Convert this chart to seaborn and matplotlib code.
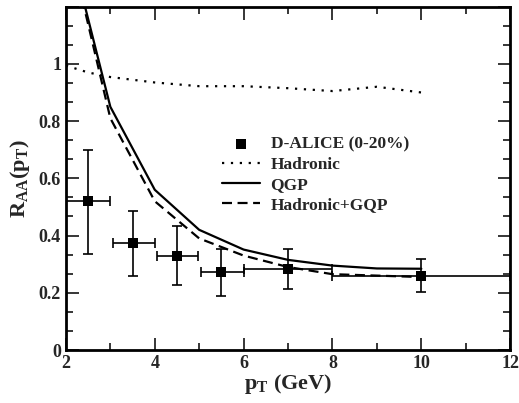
import numpy as np
import matplotlib
matplotlib.use("Agg")
import matplotlib.pyplot as plt
import seaborn as sns
from matplotlib.ticker import MultipleLocator, FuncFormatter

# data
alice_pt = [2.5, 3.5, 4.5, 5.5, 7.0, 10.0]
alice_raa = [0.52, 0.374, 0.33, 0.272, 0.284, 0.26]
alice_xlo = [2.0, 3.05, 4.05, 5.05, 6.0, 8.0]
alice_xhi = [3.0, 4.0, 4.97, 6.0, 8.0, 12.0]
alice_ylo = [0.335, 0.26, 0.228, 0.19, 0.214, 0.202]
alice_yhi = [0.70, 0.485, 0.435, 0.354, 0.353, 0.319]

had_pt = [2.0, 2.5, 3.0, 4.0, 5.0, 6.0, 7.0, 8.0, 9.0, 10.0]
had_raa = [0.994, 0.97, 0.954, 0.935, 0.922, 0.922, 0.915, 0.905, 0.92, 0.90]

qgp_pt = [2.3, 3.0, 4.0, 5.0, 6.0, 7.0, 8.0, 9.0, 10.0]
qgp_raa = [1.28, 0.85, 0.56, 0.42, 0.351, 0.315, 0.295, 0.285, 0.284]

hq_pt = [2.3, 3.0, 4.0, 5.0, 6.0, 7.0, 8.0, 9.0, 10.0]
hq_raa = [1.27, 0.81, 0.52, 0.39, 0.33, 0.29, 0.265, 0.26, 0.255]

sns.set_style("ticks")
plt.rcParams['font.family'] = ['Liberation Serif', 'DejaVu Serif']
plt.rcParams['font.weight'] = 'bold'
plt.rcParams['mathtext.fontset'] = 'custom'
plt.rcParams['mathtext.rm'] = 'Liberation Serif:bold'
plt.rcParams['mathtext.it'] = 'Liberation Serif:bold'
plt.rcParams['mathtext.bf'] = 'Liberation Serif:bold'

fig = plt.figure(figsize=(5.19, 4.03), dpi=100)
ax = fig.add_axes([0.127, 0.1315, 0.856, 0.852])

sns.lineplot(x=had_pt, y=had_raa, ax=ax, color='black', lw=1.6,
             linestyle=(0, (1, 3)), label='Hadronic')
sns.lineplot(x=qgp_pt, y=qgp_raa, ax=ax, color='black', lw=1.6, label='QGP')
sns.lineplot(x=hq_pt, y=hq_raa, ax=ax, color='black', lw=1.6,
             linestyle=(0, (4.5, 2.5)), label='Hadronic+GQP')

pt = np.array(alice_pt)
raa = np.array(alice_raa)
xerr = [pt - np.array(alice_xlo), np.array(alice_xhi) - pt]
yerr = [raa - np.array(alice_ylo), np.array(alice_yhi) - raa]
ax.errorbar(pt, raa, xerr=xerr, yerr=yerr, fmt='none', ecolor='black',
            elinewidth=1.2, capsize=3.5, capthick=1.2)
sns.scatterplot(x=alice_pt, y=alice_raa, ax=ax, marker='s', s=42,
                color='black', edgecolor='black', linewidth=0,
                label='D-ALICE (0-20%)', zorder=5)

ax.set_xlim(2, 12)
ax.set_ylim(0, 1.2)
ax.xaxis.set_major_locator(MultipleLocator(2))
ax.xaxis.set_minor_locator(MultipleLocator(1))
ax.yaxis.set_major_locator(MultipleLocator(0.2))
ax.yaxis.set_minor_locator(MultipleLocator(0.2 / 3))
ax.yaxis.set_major_formatter(FuncFormatter(lambda v, p: '' if v > 1.1 else '%g' % round(v, 2)))
ax.tick_params(which='both', direction='in', top=True, right=True,
               labelsize=13, width=1.3)
ax.tick_params(which='major', length=9)
ax.tick_params(which='minor', length=5)
for t in ax.get_xticklabels() + ax.get_yticklabels():
    t.set_fontweight('bold')
for sp in ax.spines.values():
    sp.set_linewidth(2)
    sp.set_color('black')

ax.set_xlabel(r'p$_{\rm T}$ (GeV)', fontsize=16, fontweight='bold', labelpad=0)
ax.set_ylabel(r'R$_{\rm AA}$(p$_{\rm T}$)', fontsize=16, fontweight='bold', labelpad=5)

h, l = ax.get_legend_handles_labels()
order = [3, 0, 1, 2]
ax.legend([h[i] for i in order], [l[i] for i in order], loc='upper left',
          bbox_to_anchor=(0.316, 0.667), frameon=False,
          handlelength=2.2, handletextpad=0.6, labelspacing=0.22,
          prop={'weight': 'bold', 'size': 12.5})

fig.savefig('out.png', dpi=100)
